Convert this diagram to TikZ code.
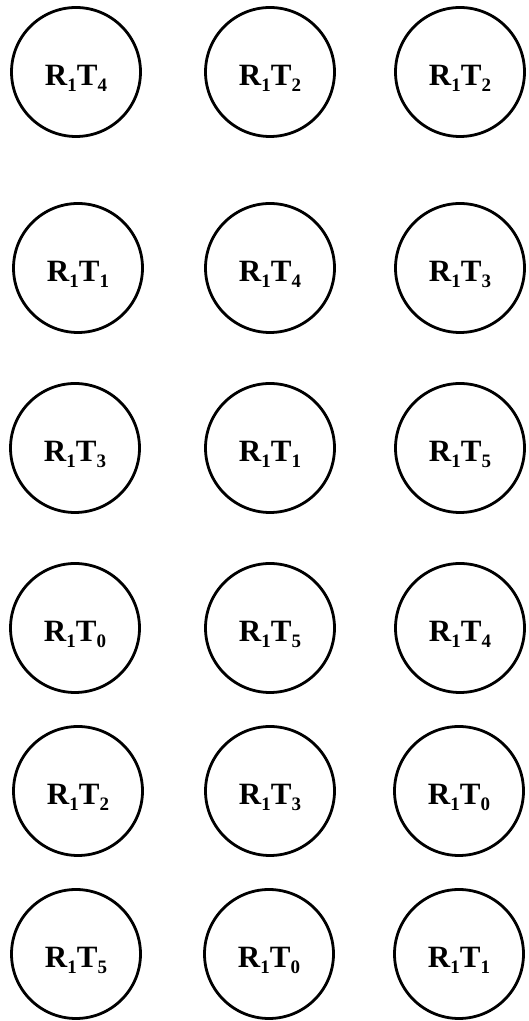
\documentclass[tikz,border=0pt]{standalone}
\usepackage{fontspec}
\setmainfont{Liberation Serif}
\newcommand{\sbx}[1]{\raisebox{-6pt}{\fontsize{19}{19}\selectfont #1}}
\newcommand{\rt}[1]{\raisebox{-14pt}[0pt][0pt]{\fontsize{31}{31}\selectfont\bfseries R\sbx{1}T\sbx{#1}}}
\tikzset{
  ring/.style={draw, circle, line width=2.8pt, minimum size=129pt, inner sep=0pt}
}
\begin{document}
\begin{tikzpicture}[x=1pt,y=1pt]
\useasboundingbox (0,0) rectangle (528,1021);
% rows (y from top): 72, 268, 448, 628, 791, 954
\node[ring] (a1) at (76,949) {\rt{4}};
\node[ring] (b1) at (270,949) {\rt{2}};
\node[ring] (c1) at (460,949) {\rt{2}};
\node[ring] (a2) at (78,753) {\rt{1}};
\node[ring] (b2) at (270,753) {\rt{4}};
\node[ring] (c2) at (460,753) {\rt{3}};
\node[ring] (a3) at (75,573) {\rt{3}};
\node[ring] (b3) at (270,573) {\rt{1}};
\node[ring] (c3) at (460,573) {\rt{5}};
\node[ring] (a4) at (75,393) {\rt{0}};
\node[ring] (b4) at (270,393) {\rt{5}};
\node[ring] (c4) at (460,393) {\rt{4}};
\node[ring] (a5) at (78,230) {\rt{2}};
\node[ring] (b5) at (270,230) {\rt{3}};
\node[ring] (c5) at (459,230) {\rt{0}};
\node[ring] (a6) at (76,67) {\rt{5}};
\node[ring] (b6) at (269,67) {\rt{0}};
\node[ring] (c6) at (459,67) {\rt{1}};
\end{tikzpicture}
\end{document}
